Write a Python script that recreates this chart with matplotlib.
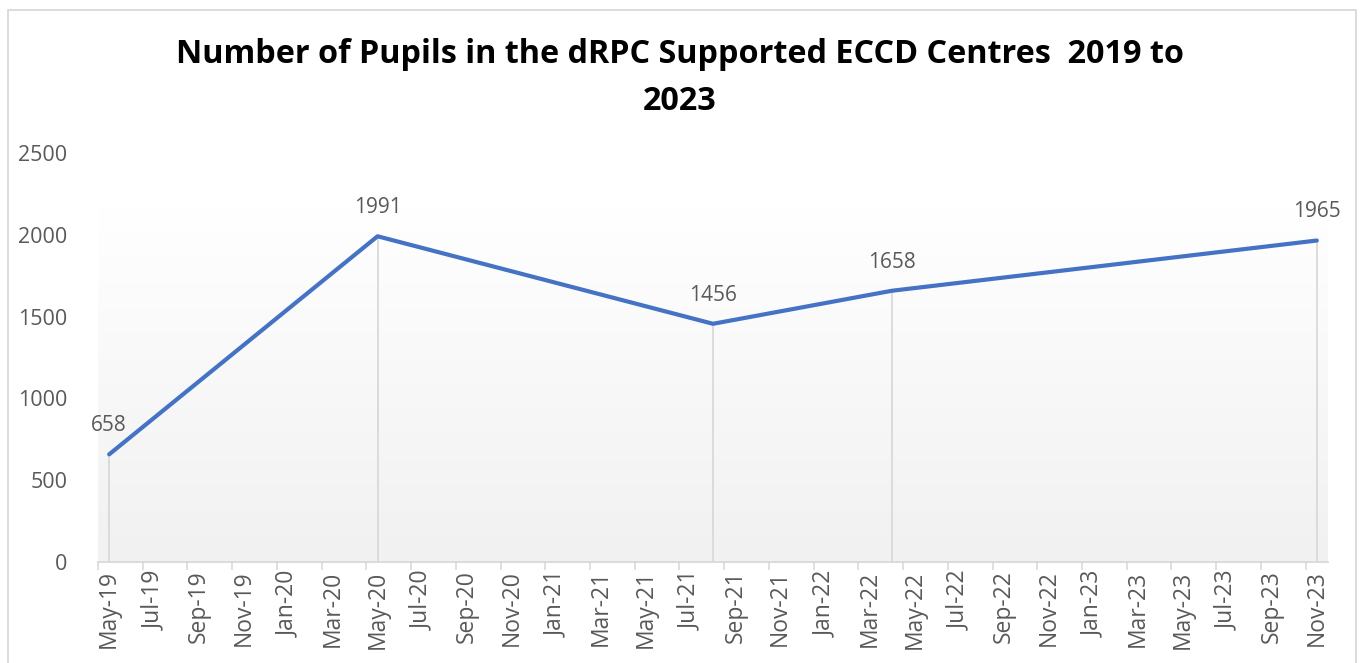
import numpy as np
import matplotlib
matplotlib.use('Agg')
import matplotlib.pyplot as plt
from matplotlib.patches import Rectangle

# ===== DATA =====
months = ['May-19', 'Jun-19', 'Jul-19', 'Aug-19', 'Sep-19', 'Oct-19', 'Nov-19', 'Dec-19',
          'Jan-20', 'Feb-20', 'Mar-20', 'Apr-20', 'May-20', 'Jun-20', 'Jul-20', 'Aug-20',
          'Sep-20', 'Oct-20', 'Nov-20', 'Dec-20', 'Jan-21', 'Feb-21', 'Mar-21', 'Apr-21',
          'May-21', 'Jun-21', 'Jul-21', 'Aug-21', 'Sep-21', 'Oct-21', 'Nov-21', 'Dec-21',
          'Jan-22', 'Feb-22', 'Mar-22', 'Apr-22', 'May-22', 'Jun-22', 'Jul-22', 'Aug-22',
          'Sep-22', 'Oct-22', 'Nov-22', 'Dec-22', 'Jan-23', 'Feb-23', 'Mar-23', 'Apr-23',
          'May-23', 'Jun-23', 'Jul-23', 'Aug-23', 'Sep-23', 'Oct-23', 'Nov-23']
point_dates = ['May-19', 'May-20', 'Aug-21', 'Apr-22', 'Nov-23']
pupils = [658, 1991, 1456, 1658, 1965]
yticks = [0, 500, 1000, 1500, 2000, 2500]

TITLE = 'Number of Pupils in the dRPC Supported ECCD Centres  2019 to\n2023'
LINE_C = '#4472C4'
TXT_C = '#595959'
GRID_C = '#D9D9D9'

plt.rcParams['font.family'] = ['Open Sans', 'DejaVu Sans']

fig = plt.figure(figsize=(13.6, 6.63), dpi=100)
W, H = 1360, 663
ax = fig.add_axes([98 / W, 101 / H, (1328 - 98) / W, (562 - 153) / H])

n = len(months)
xs = np.array([months.index(d) for d in point_dates]) + 0.5

# plot area gradient (white at top -> light gray at bottom)
grad = np.linspace(0, 1, 256).reshape(-1, 1)
c_bot = np.array([0.945, 0.945, 0.945])
c_top = np.array([1.0, 1.0, 1.0])
img = c_bot + (c_top - c_bot) * grad[..., None]
ax.imshow(img, extent=[0, n, 0, 2170], origin='lower', aspect='auto',
          zorder=0, interpolation='bilinear')

# drop lines
ax.vlines(xs, 0, pupils, color=GRID_C, lw=1.3, zorder=1)
ax.plot(xs, pupils, color=LINE_C, lw=3.0, solid_capstyle='round',
        solid_joinstyle='round', zorder=3)

for x, v in zip(xs, pupils):
    ax.annotate(f'{v}', (x, v), xytext=(0, 13), textcoords='offset points',
                ha='center', va='bottom', fontsize=15, color=TXT_C)

ax.set_xlim(0, n)
ax.set_ylim(0, 2500)

# ticks at 2-month boundaries, labels at month centres
ax.set_xticks(np.arange(0, n, 2))
ax.set_xticklabels([])
ax.tick_params(axis='x', which='major', length=6, width=1.2, color=GRID_C,
               direction='out')
ax.set_xticks(np.arange(0, n, 2) + 0.5, minor=True)
ax.set_xticklabels(months[::2], minor=True, rotation=90, fontsize=16.5,
                   color=TXT_C)
ax.tick_params(axis='x', which='minor', length=0, pad=6)

ax.set_yticks(yticks)
ax.set_yticklabels([str(t) for t in yticks], fontsize=15.5, color=TXT_C)
ax.tick_params(axis='y', length=0, pad=22)

for s in ['top', 'right', 'left']:
    ax.spines[s].set_visible(False)
ax.spines['bottom'].set_color(GRID_C)
ax.spines['bottom'].set_linewidth(1.3)

fig.text(680 / W, 1 - 78 / H, TITLE, ha='center', va='center', fontsize=23.3,
         fontweight='bold', color='black', linespacing=1.58)

# chart border
fig.patches.append(Rectangle((8 / W, -0.05), (1356 - 8) / W, 1.05 - 10.5 / H,
                             transform=fig.transFigure, fill=False,
                             edgecolor=GRID_C, lw=1.3))

fig.savefig('out.png', dpi=100)
